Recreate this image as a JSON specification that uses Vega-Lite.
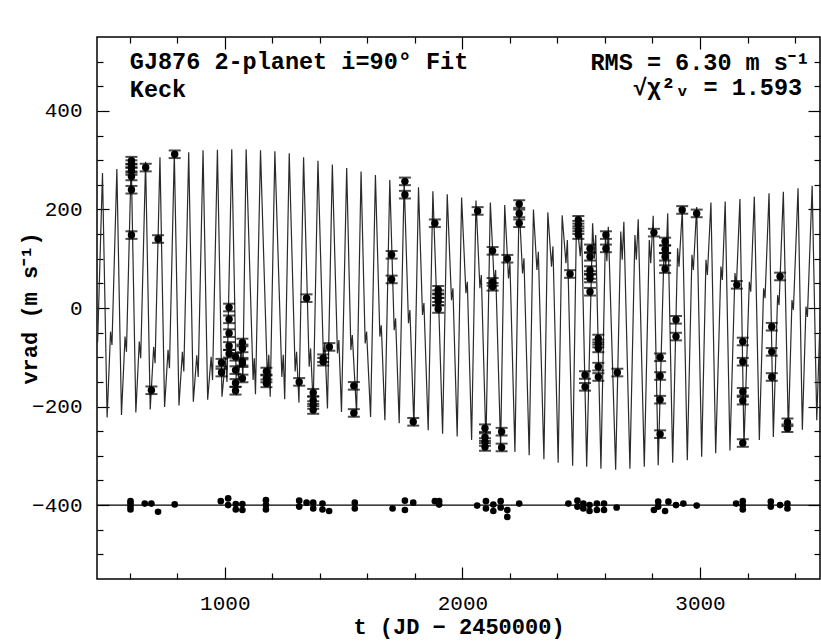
{
  "$schema": "https://vega.github.io/schema/vega-lite/v6.json",
  "width": 723,
  "height": 542,
  "autosize": "none",
  "padding": {"left": 97, "top": 37, "right": 1, "bottom": 64},
  "background": "white",
  "config": {
    "view": {"stroke": "black", "strokeWidth": 1.5},
    "font": "Liberation Mono",
    "axis": {"domain": false, "grid": false, "tickColor": "black", "tickWidth": 1.2, "labelColor": "black", "titleColor": "black", "labelFont": "Liberation Mono", "labelFontSize": 21, "titleFont": "Liberation Mono", "titleFontSize": 22, "titleFontWeight": "bold", "format": "d"}
  },
  "datasets": {
    "curve": [
      {"t": 458.6, "v": -45}, {"t": 464.6, "v": -70},
      {"t": 485.1, "v": 274}, {"t": 504.6, "v": -222}, {"t": 519, "v": -48}, {"t": 525, "v": -75},
      {"t": 545.6, "v": 282}, {"t": 565, "v": -217}, {"t": 580, "v": -58}, {"t": 586, "v": -89},
      {"t": 606, "v": 300}, {"t": 625.5, "v": -212}, {"t": 640, "v": -68}, {"t": 646, "v": -102},
      {"t": 666.5, "v": 297}, {"t": 686, "v": -206}, {"t": 700.5, "v": -79}, {"t": 706.5, "v": -112},
      {"t": 727, "v": 306}, {"t": 746.4, "v": -201}, {"t": 761, "v": -85}, {"t": 767, "v": -122},
      {"t": 787.4, "v": 314}, {"t": 807, "v": -198}, {"t": 821.4, "v": -89}, {"t": 827.4, "v": -129},
      {"t": 848, "v": 316}, {"t": 867.4, "v": -190}, {"t": 882, "v": -96}, {"t": 888, "v": -140},
      {"t": 908.3, "v": 320}, {"t": 927.8, "v": -186}, {"t": 942.3, "v": -99}, {"t": 948.3, "v": -146},
      {"t": 968.8, "v": 321}, {"t": 988, "v": -180}, {"t": 1003, "v": -102}, {"t": 1009, "v": -150},
      {"t": 1029.2, "v": 322}, {"t": 1049, "v": -177}, {"t": 1070, "v": -80}, {"t": 1076, "v": -145},
      {"t": 1089.7, "v": 322}, {"t": 1119, "v": -146}, {"t": 1124, "v": -102}, {"t": 1129, "v": -175},
      {"t": 1150.2, "v": 320}, {"t": 1179, "v": -143}, {"t": 1185, "v": -95}, {"t": 1191, "v": -180},
      {"t": 1210.6, "v": 318}, {"t": 1240, "v": -140}, {"t": 1246, "v": -95}, {"t": 1252, "v": -185},
      {"t": 1271.1, "v": 314}, {"t": 1296, "v": -129}, {"t": 1302, "v": -89}, {"t": 1312, "v": -192},
      {"t": 1331.5, "v": 306}, {"t": 1355, "v": -119}, {"t": 1361, "v": -82}, {"t": 1372, "v": -198},
      {"t": 1392, "v": 299}, {"t": 1415, "v": -102}, {"t": 1421, "v": -71}, {"t": 1432, "v": -204},
      {"t": 1452.5, "v": 291}, {"t": 1474, "v": -92}, {"t": 1480, "v": -65}, {"t": 1491, "v": -211},
      {"t": 1512.9, "v": 284}, {"t": 1530.5, "v": -85}, {"t": 1536.5, "v": -55}, {"t": 1554.5, "v": -214},
      {"t": 1573.4, "v": 277}, {"t": 1590.7, "v": -72}, {"t": 1596.7, "v": -48}, {"t": 1613.5, "v": -221},
      {"t": 1633.8, "v": 270}, {"t": 1652.6, "v": -58}, {"t": 1658.6, "v": -35}, {"t": 1673.7, "v": -228},
      {"t": 1694.3, "v": 260}, {"t": 1712.8, "v": -45}, {"t": 1718.8, "v": -21}, {"t": 1733.9, "v": -234},
      {"t": 1754.8, "v": 258}, {"t": 1773, "v": -31}, {"t": 1779, "v": -4}, {"t": 1795.8, "v": -240},
      {"t": 1815.2, "v": 245}, {"t": 1832, "v": -14}, {"t": 1838, "v": 10}, {"t": 1856, "v": -248},
      {"t": 1875.7, "v": 237}, {"t": 1892.6, "v": 2}, {"t": 1898.6, "v": 32}, {"t": 1916.6, "v": -255},
      {"t": 1936.1, "v": 231}, {"t": 1954, "v": 16}, {"t": 1960, "v": 40}, {"t": 1978, "v": -261},
      {"t": 1996.6, "v": 224}, {"t": 2014.7, "v": 30}, {"t": 2020.7, "v": 53}, {"t": 2038.7, "v": -268},
      {"t": 2057.1, "v": 218}, {"t": 2073.6, "v": 40}, {"t": 2079.6, "v": 67}, {"t": 2099, "v": -275},
      {"t": 2117.5, "v": 214}, {"t": 2133.8, "v": 50}, {"t": 2139.8, "v": 77}, {"t": 2160.8, "v": -282},
      {"t": 2178, "v": 209}, {"t": 2194, "v": 60}, {"t": 2200, "v": 91}, {"t": 2221, "v": -292},
      {"t": 2238.4, "v": 212}, {"t": 2253, "v": 70}, {"t": 2259, "v": 101}, {"t": 2281, "v": -299},
      {"t": 2298.9, "v": 200}, {"t": 2313.6, "v": 77}, {"t": 2319.6, "v": 114}, {"t": 2343, "v": -307},
      {"t": 2359.4, "v": 194}, {"t": 2375, "v": 84}, {"t": 2381, "v": 125}, {"t": 2403, "v": -314},
      {"t": 2419.8, "v": 188}, {"t": 2435.7, "v": 91}, {"t": 2441.7, "v": 138}, {"t": 2464, "v": -320},
      {"t": 2480.3, "v": 184}, {"t": 2496, "v": 105}, {"t": 2502, "v": 150}, {"t": 2523, "v": -322},
      {"t": 2548, "v": 172}, {"t": 2555, "v": 100}, {"t": 2561, "v": 148}, {"t": 2583, "v": -326},
      {"t": 2602, "v": 150}, {"t": 2608, "v": 95}, {"t": 2614, "v": 165}, {"t": 2645, "v": -328},
      {"t": 2666.5, "v": 155}, {"t": 2672.5, "v": 98}, {"t": 2679.5, "v": 175}, {"t": 2705, "v": -326},
      {"t": 2726, "v": 148}, {"t": 2732, "v": 98}, {"t": 2740, "v": 180}, {"t": 2765.5, "v": -322},
      {"t": 2786.5, "v": 138}, {"t": 2792.5, "v": 91}, {"t": 2803, "v": 187}, {"t": 2824, "v": -319},
      {"t": 2849.6, "v": 135}, {"t": 2855.6, "v": 79}, {"t": 2864, "v": 192}, {"t": 2885, "v": -314},
      {"t": 2905.6, "v": 121}, {"t": 2911.6, "v": 84}, {"t": 2925.5, "v": 200}, {"t": 2946.5, "v": -309},
      {"t": 2966, "v": 108}, {"t": 2972, "v": 77}, {"t": 2986, "v": 205}, {"t": 3007, "v": -302},
      {"t": 3025, "v": 98}, {"t": 3031, "v": 67}, {"t": 3046, "v": 214}, {"t": 3066, "v": -295},
      {"t": 3088, "v": 84}, {"t": 3094, "v": 57}, {"t": 3106, "v": 216}, {"t": 3126, "v": -289},
      {"t": 3147, "v": 71}, {"t": 3153, "v": 43}, {"t": 3168, "v": 221}, {"t": 3185, "v": -280},
      {"t": 3207.5, "v": 53}, {"t": 3213.5, "v": 33}, {"t": 3228.6, "v": 226}, {"t": 3249.7, "v": -268},
      {"t": 3267.7, "v": 40}, {"t": 3273.7, "v": 20}, {"t": 3290.5, "v": 233}, {"t": 3308.6, "v": -262},
      {"t": 3326.7, "v": 26}, {"t": 3332.7, "v": 6}, {"t": 3350.7, "v": 236}, {"t": 3371.8, "v": -251},
      {"t": 3387, "v": 16}, {"t": 3393, "v": -4}, {"t": 3412.6, "v": 243}, {"t": 3430.7, "v": -247},
      {"t": 3446, "v": 3}, {"t": 3452, "v": -18}, {"t": 3472, "v": 248}, {"t": 3491.4, "v": -228},
      {"t": 3506, "v": -10}, {"t": 3512, "v": -30}
    ],
    "obs": [
      {"t": 607, "v": 299}, {"t": 607, "v": 292}, {"t": 607, "v": 285}, {"t": 607, "v": 278}, {"t": 607, "v": 267}, {"t": 607, "v": 240}, {"t": 607, "v": 148},
      {"t": 667, "v": 285}, {"t": 691, "v": -167}, {"t": 719, "v": 140}, {"t": 789, "v": 312},
      {"t": 986, "v": -111}, {"t": 986, "v": -131},
      {"t": 1018, "v": 1}, {"t": 1018, "v": -23}, {"t": 1018, "v": -51}, {"t": 1018, "v": -77}, {"t": 1018, "v": -93},
      {"t": 1045, "v": -99}, {"t": 1045, "v": -126}, {"t": 1045, "v": -152}, {"t": 1045, "v": -168},
      {"t": 1074, "v": -70}, {"t": 1074, "v": -82}, {"t": 1074, "v": -109}, {"t": 1074, "v": -112}, {"t": 1074, "v": -143},
      {"t": 1175, "v": -129}, {"t": 1175, "v": -143}, {"t": 1175, "v": -153},
      {"t": 1313, "v": -150}, {"t": 1344, "v": 20},
      {"t": 1372, "v": -172}, {"t": 1372, "v": -187}, {"t": 1372, "v": -197}, {"t": 1372, "v": -207},
      {"t": 1414, "v": -102}, {"t": 1414, "v": -109}, {"t": 1440, "v": -79},
      {"t": 1543, "v": -158}, {"t": 1543, "v": -213},
      {"t": 1702, "v": 108}, {"t": 1702, "v": 58},
      {"t": 1758, "v": 257}, {"t": 1758, "v": 230}, {"t": 1793, "v": -231},
      {"t": 1884, "v": 172},
      {"t": 1898, "v": 37}, {"t": 1898, "v": 28}, {"t": 1898, "v": 20}, {"t": 1898, "v": 13}, {"t": 1898, "v": -2},
      {"t": 2064, "v": 197},
      {"t": 2095, "v": -244}, {"t": 2095, "v": -262}, {"t": 2095, "v": -272}, {"t": 2095, "v": -282},
      {"t": 2127, "v": 116}, {"t": 2127, "v": 53}, {"t": 2127, "v": 43},
      {"t": 2165, "v": -251}, {"t": 2165, "v": -283},
      {"t": 2189, "v": 100},
      {"t": 2239, "v": 211}, {"t": 2239, "v": 192}, {"t": 2239, "v": 172},
      {"t": 2453, "v": 69},
      {"t": 2488, "v": 179}, {"t": 2488, "v": 169}, {"t": 2488, "v": 158}, {"t": 2488, "v": 148},
      {"t": 2516, "v": -136}, {"t": 2516, "v": -160},
      {"t": 2537, "v": 121}, {"t": 2537, "v": 104}, {"t": 2537, "v": 77}, {"t": 2537, "v": 67}, {"t": 2537, "v": 60}, {"t": 2537, "v": 33},
      {"t": 2572, "v": -62}, {"t": 2572, "v": -72}, {"t": 2572, "v": -82}, {"t": 2572, "v": -119}, {"t": 2572, "v": -140},
      {"t": 2604, "v": 148}, {"t": 2604, "v": 121},
      {"t": 2652, "v": -131},
      {"t": 2806, "v": 153},
      {"t": 2832, "v": -100}, {"t": 2832, "v": -138}, {"t": 2832, "v": -186}, {"t": 2832, "v": -256},
      {"t": 2853, "v": 135}, {"t": 2853, "v": 119}, {"t": 2853, "v": 104}, {"t": 2853, "v": 79},
      {"t": 2899, "v": -24}, {"t": 2899, "v": -58},
      {"t": 2925, "v": 199}, {"t": 2986, "v": 192},
      {"t": 3155, "v": 47},
      {"t": 3180, "v": -68}, {"t": 3180, "v": -109}, {"t": 3180, "v": -170}, {"t": 3180, "v": -188}, {"t": 3180, "v": -274},
      {"t": 3302, "v": -38}, {"t": 3302, "v": -89}, {"t": 3302, "v": -140},
      {"t": 3337, "v": 64},
      {"t": 3368, "v": -232}, {"t": 3368, "v": -244}
    ],
    "resid": [
      {"t": 603, "v": -392}, {"t": 603, "v": -397}, {"t": 603, "v": -403.5}, {"t": 603, "v": -409},
      {"t": 663, "v": -397}, {"t": 691, "v": -397}, {"t": 719, "v": -413.6}, {"t": 789, "v": -398.6},
      {"t": 983, "v": -392}, {"t": 1014, "v": -386.4}, {"t": 1014, "v": -400},
      {"t": 1046, "v": -398}, {"t": 1046, "v": -409}, {"t": 1074, "v": -398}, {"t": 1074, "v": -410},
      {"t": 1173, "v": -390}, {"t": 1173, "v": -400}, {"t": 1173, "v": -409},
      {"t": 1313, "v": -391}, {"t": 1313, "v": -403}, {"t": 1344, "v": -395},
      {"t": 1372, "v": -395}, {"t": 1372, "v": -407}, {"t": 1411, "v": -397}, {"t": 1411, "v": -409},
      {"t": 1439, "v": -412}, {"t": 1547, "v": -395}, {"t": 1547, "v": -407},
      {"t": 1706, "v": -407}, {"t": 1758, "v": -391}, {"t": 1758, "v": -410}, {"t": 1793, "v": -395},
      {"t": 1884, "v": -392}, {"t": 1902, "v": -392}, {"t": 1902, "v": -399},
      {"t": 2062, "v": -401}, {"t": 2099, "v": -392}, {"t": 2099, "v": -407},
      {"t": 2130, "v": -399}, {"t": 2130, "v": -412}, {"t": 2161, "v": -392}, {"t": 2161, "v": -405},
      {"t": 2189, "v": -410}, {"t": 2189, "v": -424}, {"t": 2239, "v": -397},
      {"t": 2446, "v": -397}, {"t": 2484, "v": -391}, {"t": 2484, "v": -403},
      {"t": 2509, "v": -397}, {"t": 2509, "v": -407}, {"t": 2535, "v": -400}, {"t": 2535, "v": -412},
      {"t": 2566, "v": -397}, {"t": 2566, "v": -410}, {"t": 2596, "v": -397}, {"t": 2596, "v": -410},
      {"t": 2649, "v": -405}, {"t": 2806, "v": -410}, {"t": 2824, "v": -393}, {"t": 2824, "v": -403},
      {"t": 2853, "v": -412}, {"t": 2867, "v": -393}, {"t": 2899, "v": -400}, {"t": 2930, "v": -397},
      {"t": 2986, "v": -401}, {"t": 3152, "v": -397},
      {"t": 3180, "v": -392}, {"t": 3180, "v": -401}, {"t": 3180, "v": -409},
      {"t": 3298, "v": -393}, {"t": 3298, "v": -403}, {"t": 3337, "v": -400},
      {"t": 3368, "v": -397}, {"t": 3368, "v": -407}
    ],
    "zeroLine": [{"v": -400}],
    "labelsLeft": [
      {"t": 600, "v": 500, "label": "GJ876 2-planet i=90° Fit"},
      {"t": 600, "v": 443, "label": "Keck"}
    ],
    "labelsRight": [
      {"t": 3463, "v": 498, "label": "RMS = 6.30 m s⁻¹"},
      {"t": 3430, "v": 447, "label": "√χ²ᵥ = 1.593"}
    ]
  },
  "layer": [
    {
      "data": {"name": "curve"},
      "mark": {"type": "line", "stroke": "#2a2a2a", "strokeWidth": 1.2, "clip": true},
      "encoding": {
        "x": {"field": "t", "type": "quantitative", "scale": {"domain": [462, 3505], "nice": false, "zero": false},
              "axis": {"orient": "bottom", "values": [1000, 2000, 3000], "tickSize": -12, "labelPadding": 25, "title": "t (JD − 2450000)", "titlePadding": 3}},
        "y": {"field": "v", "type": "quantitative", "scale": {"domain": [-550, 550], "nice": false, "zero": false},
              "axis": {"orient": "left", "values": [-400, -200, 0, 200, 400], "tickSize": -12, "labelPadding": 27, "title": "vrad (m s⁻¹)", "titlePadding": -10}}
      }
    },
    {
      "data": {"name": "zeroLine"},
      "mark": {"type": "rule", "stroke": "black", "strokeWidth": 1.2},
      "encoding": {"y": {"field": "v", "type": "quantitative", "scale": {"domain": [-550, 550], "nice": false, "zero": false}, "axis": null}}
    },
    {
      "data": {"name": "obs"},
      "mark": {"type": "circle", "color": "black", "size": 55, "opacity": 1},
      "encoding": {
        "x": {"field": "t", "type": "quantitative", "scale": {"domain": [462, 3505], "nice": false, "zero": false},
              "axis": {"orient": "top", "values": [1000, 2000, 3000], "tickSize": -12, "labels": false, "title": null}},
        "y": {"field": "v", "type": "quantitative", "scale": {"domain": [-550, 550], "nice": false, "zero": false},
              "axis": {"orient": "right", "values": [-400, -200, 0, 200, 400], "tickSize": -12, "labels": false, "title": null}}
      }
    },
    {
      "data": {"name": "obs"},
      "mark": {"type": "tick", "orient": "horizontal", "color": "black", "size": 12, "thickness": 2, "yOffset": -3.8},
      "encoding": {
        "x": {"field": "t", "type": "quantitative", "scale": {"domain": [462, 3505], "nice": false, "zero": false},
              "axis": {"orient": "bottom", "values": [600, 800, 1200, 1400, 1600, 1800, 2200, 2400, 2600, 2800, 3200, 3400], "tickSize": -6, "labels": false, "title": null}},
        "y": {"field": "v", "type": "quantitative", "scale": {"domain": [-550, 550], "nice": false, "zero": false},
              "axis": {"orient": "left", "values": [-500, -450, -350, -300, -250, -150, -100, -50, 50, 100, 150, 250, 300, 350, 450, 500], "tickSize": -6, "labels": false, "title": null}}
      }
    },
    {
      "data": {"name": "obs"},
      "mark": {"type": "tick", "orient": "horizontal", "color": "black", "size": 12, "thickness": 2, "yOffset": 3.8},
      "encoding": {
        "x": {"field": "t", "type": "quantitative", "scale": {"domain": [462, 3505], "nice": false, "zero": false},
              "axis": {"orient": "top", "values": [600, 800, 1200, 1400, 1600, 1800, 2200, 2400, 2600, 2800, 3200, 3400], "tickSize": -6, "labels": false, "title": null}},
        "y": {"field": "v", "type": "quantitative", "scale": {"domain": [-550, 550], "nice": false, "zero": false},
              "axis": {"orient": "right", "values": [-500, -450, -350, -300, -250, -150, -100, -50, 50, 100, 150, 250, 300, 350, 450, 500], "tickSize": -6, "labels": false, "title": null}}
      }
    },
    {
      "data": {"name": "resid"},
      "mark": {"type": "circle", "color": "black", "size": 44, "opacity": 1},
      "encoding": {
        "x": {"field": "t", "type": "quantitative", "scale": {"domain": [462, 3505], "nice": false, "zero": false}, "axis": null},
        "y": {"field": "v", "type": "quantitative", "scale": {"domain": [-550, 550], "nice": false, "zero": false}, "axis": null}
      }
    },
    {
      "data": {"name": "labelsLeft"},
      "mark": {"type": "text", "align": "left", "baseline": "middle", "font": "Liberation Mono", "fontSize": 23.5, "fontWeight": "bold", "color": "black"},
      "encoding": {
        "x": {"field": "t", "type": "quantitative", "scale": {"domain": [462, 3505], "nice": false, "zero": false}, "axis": null},
        "y": {"field": "v", "type": "quantitative", "scale": {"domain": [-550, 550], "nice": false, "zero": false}, "axis": null},
        "text": {"field": "label"}
      }
    },
    {
      "data": {"name": "labelsRight"},
      "mark": {"type": "text", "align": "right", "baseline": "middle", "font": "Liberation Mono", "fontSize": 23.5, "fontWeight": "bold", "color": "black"},
      "encoding": {
        "x": {"field": "t", "type": "quantitative", "scale": {"domain": [462, 3505], "nice": false, "zero": false}, "axis": null},
        "y": {"field": "v", "type": "quantitative", "scale": {"domain": [-550, 550], "nice": false, "zero": false}, "axis": null},
        "text": {"field": "label"}
      }
    }
  ],
  "resolve": {"axis": {"x": "independent", "y": "independent"}}
}
